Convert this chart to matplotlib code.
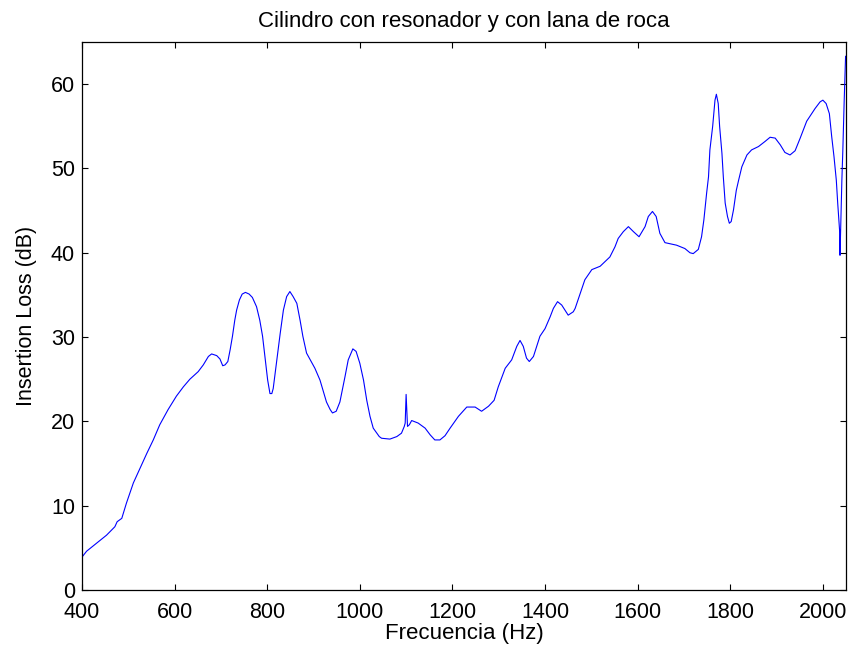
import numpy as np
import matplotlib.pyplot as plt

plt.rcParams['font.family'] = ['Liberation Sans', 'DejaVu Sans']

# Insertion loss curve (Hz, dB)
freq = [400, 410, 435, 453, 471, 476, 486, 496, 511, 525, 540, 554, 568, 586,
        604, 619, 633, 651, 662, 673, 680, 691, 698, 704, 709, 715, 720, 725,
        730, 734, 740, 746, 753, 761, 768, 777, 784, 790, 795, 801, 806, 810,
        813, 820, 828, 835, 842, 849, 856, 864, 871, 877, 885, 903, 914, 928,
        936, 941, 949, 957, 968, 975, 985, 992, 1000, 1008, 1015, 1022, 1029,
        1042, 1047, 1065, 1080, 1090, 1096, 1098, 1100, 1103, 1107, 1112, 1126,
        1141, 1152, 1162, 1173, 1184, 1195, 1213, 1231, 1249, 1263, 1278, 1290,
        1299, 1314, 1328, 1339, 1346, 1353, 1360, 1366, 1375, 1382, 1389, 1400,
        1411, 1418, 1427, 1436, 1450, 1461, 1465, 1476, 1486, 1501, 1519, 1540,
        1551, 1558, 1569, 1580, 1591, 1603, 1616, 1623, 1632, 1640, 1648, 1659,
        1684, 1702, 1713, 1720, 1731, 1738, 1743, 1749, 1753, 1756, 1762, 1767,
        1770, 1774, 1777, 1782, 1785, 1789, 1794, 1798, 1802, 1807, 1813, 1818,
        1825, 1836, 1846, 1861, 1875, 1886, 1897, 1908, 1918, 1929, 1940, 1951,
        1965, 1983, 1994, 2000, 2007, 2014, 2019, 2024, 2029, 2032, 2036, 2037,
        2041, 2043, 2046, 2049]
il_db = [3.9, 4.6, 5.7, 6.5, 7.5, 8.1, 8.5, 10.3, 12.7, 14.4, 16.2, 17.8, 19.6, 21.4,
         23.0, 24.1, 25.0, 25.9, 26.7, 27.7, 28.0, 27.8, 27.4, 26.6, 26.7, 27.1, 28.5, 30.1,
         32.0, 33.2, 34.4, 35.1, 35.3, 35.1, 34.7, 33.6, 32.0, 30.1, 27.7, 24.9, 23.3, 23.3,
         23.9, 26.9, 30.4, 33.2, 34.8, 35.4, 34.8, 34.0, 32.0, 30.1, 28.1, 26.3, 24.9, 22.3,
         21.4, 21.0, 21.2, 22.3, 25.3, 27.3, 28.6, 28.3, 26.9, 24.9, 22.5, 20.6, 19.2,
         18.2, 18.0, 17.9, 18.2, 18.6, 19.4, 19.8, 23.2, 19.4, 19.6, 20.1, 19.8,
         19.2, 18.4, 17.8, 17.8, 18.3, 19.2, 20.6, 21.7, 21.7, 21.2, 21.8, 22.5,
         24.1, 26.3, 27.3, 28.9, 29.6, 28.9, 27.5, 27.1, 27.7, 28.9, 30.1, 31.0,
         32.4, 33.4, 34.2, 33.8, 32.6, 33.0, 33.4, 35.2, 36.8, 38.0, 38.4, 39.5,
         40.7, 41.7, 42.5, 43.1, 42.5, 41.9, 43.1, 44.3, 44.9, 44.3, 42.3, 41.2,
         40.9, 40.5, 40.0, 39.9, 40.4, 41.9, 43.9, 47.1, 49.0, 52.2, 55.0, 58.1,
         58.8, 57.7, 55.0, 51.8, 49.0, 45.9, 44.3, 43.5, 43.7, 45.1, 47.4, 48.6,
         50.2, 51.6, 52.2, 52.6, 53.2, 53.7, 53.6, 52.8, 51.9, 51.6, 52.1, 53.6,
         55.6, 57.1, 57.9, 58.1, 57.7, 56.5, 53.8, 51.4, 48.6, 45.9, 42.7, 39.7,
         48.6, 52.0, 58.0, 63.3]

fig = plt.figure(figsize=(8.52, 6.51), dpi=100)
ax = fig.add_axes([0.0962, 0.0937, 0.8968, 0.8418])

ax.plot(freq, il_db, color='b', linewidth=0.8)

ax.set_xlim(400, 2050)
ax.set_ylim(0, 65)
ax.set_xticks(np.arange(400, 2001, 200))
ax.set_yticks(np.arange(0, 61, 10))
ax.tick_params(direction='in', top=True, right=True, length=4, width=0.8,
               labelsize=15.5)
ax.tick_params(axis='x', pad=8.5)
ax.tick_params(axis='y', pad=5)
for s in ax.spines.values():
    s.set_linewidth(0.9)

ax.set_xlabel("Frecuencia (Hz)", fontsize=16, labelpad=0)
ax.set_ylabel("Insertion Loss (dB)", fontsize=15.5, labelpad=10)
ax.set_title("Cilindro con resonador y con lana de roca", fontsize=16, pad=11)

fig.savefig("out.png", dpi=100)
